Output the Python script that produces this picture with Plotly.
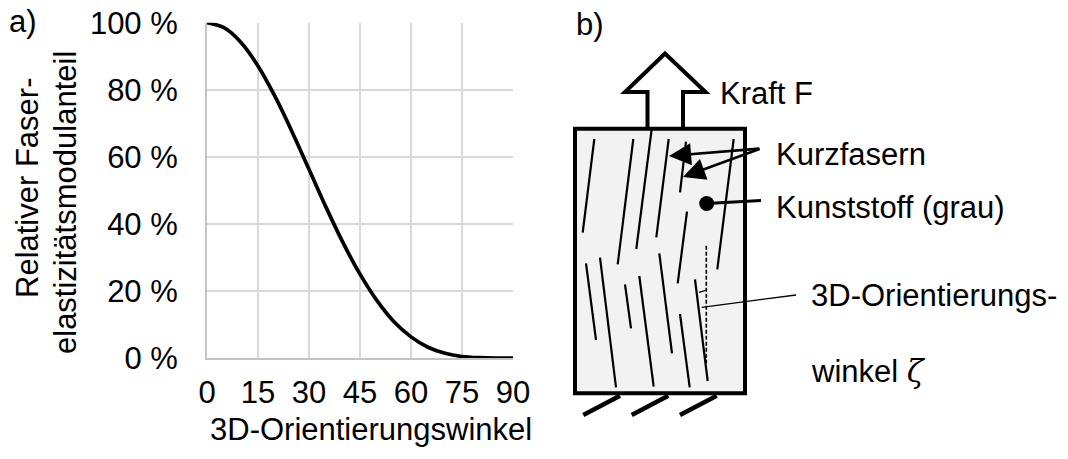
import plotly.graph_objects as go

W, H = 1068, 459
FONT = "Liberation Sans, Arial, sans-serif"

# ---- panel a): relative fibre modulus vs. 3D orientation angle ----
angle_deg = [0, 5, 10, 15, 20, 25, 30, 35, 40, 45, 50, 55, 60, 65, 70, 75, 80, 85, 90]
modulus_pct = [100, 98.5, 94.1, 87.1, 78.0, 67.5, 56.3, 45.0, 34.4, 25.0, 17.1,
               10.8, 6.3, 3.2, 1.4, 0.45, 0.1, 0.0, 0.0]
x_ticks = [0, 15, 30, 45, 60, 75, 90]
y_ticks = [0, 20, 40, 60, 80, 100]
y_tick_text = ["0 %", "20 %", "40 %", "60 %", "80 %", "100 %"]

# ---- panel b): schematic of a short-fibre specimen (pixel coordinates) ----
specimen_box = [575, 128.7, 745, 393.3]          # x0, y0, x1, y1
force_arrow = [(647.5, 128.7), (647.5, 92), (625, 92), (665, 53.5),
               (705.5, 92), (683, 92), (683, 128.7)]
fibres = [
    ((594.3, 139), (582.7, 232.7)),
    ((633.3, 139), (617.7, 264.3)),
    ((651.7, 129), (636.3, 249)),
    ((668.7, 139), (656.3, 237.3)),
    ((686, 141.7), (680, 192.3)),
    ((733.7, 139), (717.3, 269.3)),
    ((687, 211.7), (677.7, 283.3)),
    ((586, 263.3), (596, 340)),
    ((600, 257.7), (616, 387.3)),
    ((625, 284.3), (631, 328.3)),
    ((639.3, 276), (653.7, 386.7)),
    ((659.3, 253.3), (672, 353.3)),
    ((680, 314), (689.7, 387.3)),
    ((695, 279.3), (707.7, 381)),
]
reference_axis = ((706.3, 245.7), (706.3, 363.3))
angle_mark = ((699, 292.3), (705.7, 290.3))
clamps = [((583.3, 415), (620, 395.7)), ((631.7, 415), (668.3, 395.7)),
          ((680, 415), (716.7, 395.7))]
matrix_dot = (706.7, 203.5)
fibre_arrow_tips = [(669, 156), (683, 177)]
fibre_arrow_start = (761, 148.5)
labels = [
    ("Kraft F", 718, 93),
    ("Kurzfasern", 774, 154),
    ("Kunststoff (grau)", 774, 207),
    ("3D-Orientierungs-", 809, 295),
    ("winkel <span style='font-family:DejaVu Serif'><i>ζ</i></span>", 809, 371),
]
y_title_lines = [("Relativer Faser-", 27, 188), ("elastizitätsmodulanteil", 65, 203)]


def segs(pairs):
    xs, ys = [], []
    for a, b in pairs:
        xs += [a[0], b[0], None]
        ys += [a[1], b[1], None]
    return xs, ys


fig = go.Figure()

# curve of panel a)
fig.add_trace(go.Scatter(
    x=angle_deg, y=modulus_pct, mode="lines",
    line=dict(color="black", width=3.7, shape="spline", smoothing=0.8),
    xaxis="x", yaxis="y", hoverinfo="skip", showlegend=False))

# fibres
fx, fy = segs(fibres)
fig.add_trace(go.Scatter(x=fx, y=fy, mode="lines",
                         line=dict(color="black", width=2.2),
                         xaxis="x2", yaxis="y2", hoverinfo="skip", showlegend=False))
# dashed reference direction
rx, ry = segs([reference_axis])
fig.add_trace(go.Scatter(x=rx, y=ry, mode="lines",
                         line=dict(color="black", width=1.6, dash="4px,2px"),
                         xaxis="x2", yaxis="y2", hoverinfo="skip", showlegend=False))
# angle mark and its leader line
lx, ly = segs([angle_mark, ((701.7, 307.3), (796, 295))])
fig.add_trace(go.Scatter(x=lx, y=ly, mode="lines",
                         line=dict(color="black", width=1.3),
                         xaxis="x2", yaxis="y2", hoverinfo="skip", showlegend=False))
# clamping hatches
cx, cy = segs(clamps)
fig.add_trace(go.Scatter(x=cx, y=cy, mode="lines",
                         line=dict(color="black", width=4.5),
                         xaxis="x2", yaxis="y2", hoverinfo="skip", showlegend=False))
# matrix dot with its leader
fig.add_trace(go.Scatter(x=[matrix_dot[0], 761], y=[matrix_dot[1], 200.5], mode="lines",
                         line=dict(color="black", width=2.8),
                         xaxis="x2", yaxis="y2", hoverinfo="skip", showlegend=False))
fig.add_trace(go.Scatter(x=[matrix_dot[0]], y=[matrix_dot[1]], mode="markers",
                         marker=dict(color="black", size=15),
                         xaxis="x2", yaxis="y2", hoverinfo="skip", showlegend=False))

shapes = [
    dict(type="rect", xref="x2", yref="y2",
         x0=specimen_box[0], y0=specimen_box[1], x1=specimen_box[2], y1=specimen_box[3],
         fillcolor="#f2f2f2", line=dict(color="black", width=4), layer="below"),
    dict(type="path", xref="x2", yref="y2",
         path="M " + " L ".join(f"{x},{y}" for x, y in force_arrow),
         line=dict(color="black", width=4)),
]

FS = 31
annotations = [
    dict(text="a)", x=22.5, y=21, xref="x2", yref="y2", showarrow=False,
         font=dict(size=FS, family=FONT, color="black")),
    dict(text="b)", x=590, y=24, xref="x2", yref="y2", showarrow=False,
         font=dict(size=FS, family=FONT, color="black")),
    dict(text="3D-Orientierungswinkel", x=371, y=429, xref="x2", yref="y2",
         showarrow=False, font=dict(size=FS, family=FONT, color="black")),
]
for txt, x, y in y_title_lines:
    annotations.append(dict(text=txt, x=x, y=y, xref="x2", yref="y2", showarrow=False,
                            textangle=-90,
                            font=dict(size=FS, family=FONT, color="black")))
for txt, x, y in labels:
    annotations.append(dict(text=txt, x=x, y=y, xref="x2", yref="y2", showarrow=False,
                            xanchor="left", yanchor="middle",
                            font=dict(size=FS, family=FONT, color="black")))
for tx, ty in fibre_arrow_tips:
    annotations.append(dict(text="", x=tx, y=ty, ax=fibre_arrow_start[0],
                            ay=fibre_arrow_start[1], xref="x2", yref="y2",
                            axref="x2", ayref="y2", showarrow=True, arrowhead=2,
                            arrowsize=1.7, arrowwidth=2.6, arrowcolor="black"))

fig.update_layout(
    template="none",
    width=W, height=H, margin=dict(l=0, r=0, t=0, b=0, pad=0, autoexpand=False),
    paper_bgcolor="white", plot_bgcolor="rgba(0,0,0,0)",
    font=dict(family=FONT, size=FS, color="black"),
    showlegend=False,
    xaxis=dict(domain=[207 / W, 513 / W], range=[0, 90], tickvals=x_ticks,
               ticktext=[str(v) for v in x_ticks], showgrid=True,
               gridcolor="#d9d9d9", gridwidth=1.5, zeroline=False,
               showline=True, linecolor="#c4c4c4", linewidth=2, ticks="",
               ticklabelstandoff=6, tickfont=dict(size=FS, color="black"),
               anchor="y", fixedrange=True, automargin=False),
    yaxis=dict(domain=[1 - 358 / H, 1 - 22.7 / H], range=[0, 100], tickvals=y_ticks,
               ticktext=y_tick_text, showgrid=True, gridcolor="#d9d9d9",
               gridwidth=1.5, zeroline=False, showline=True, linecolor="#c4c4c4",
               linewidth=2, ticks="", ticklabelstandoff=21,
               tickfont=dict(size=FS, color="black"), anchor="x", fixedrange=True,
               automargin=False),
    xaxis2=dict(domain=[0, 1], range=[0, W], visible=False, anchor="y2",
                fixedrange=True, automargin=False),
    yaxis2=dict(domain=[0, 1], range=[H, 0], visible=False, anchor="x2",
                fixedrange=True, automargin=False),
    shapes=shapes, annotations=annotations,
)

fig.write_html("out.html")
